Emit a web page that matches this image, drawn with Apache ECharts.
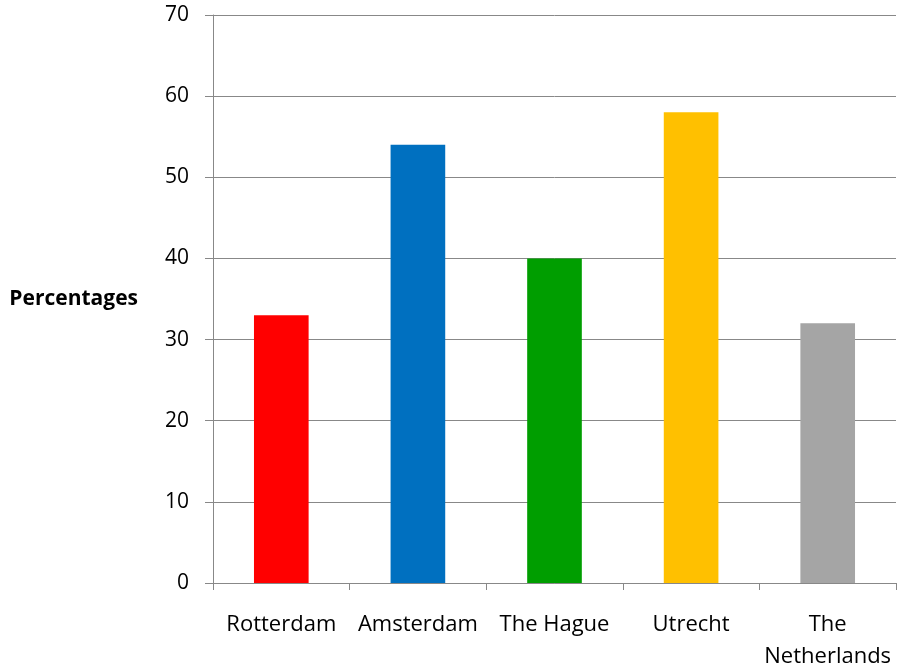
<!DOCTYPE html>
<html>
<head>
<meta charset="utf-8">
<script src="https://cdn.jsdelivr.net/npm/echarts@6/dist/echarts.min.js"></script>
<style>
  html, body { margin: 0; padding: 0; background: #fff; }
  #chart { width: 897px; height: 671px; }
</style>
</head>
<body>
<div id="chart"></div>
<script>
// categories and values
const cities = ['Rotterdam', 'Amsterdam', 'The Hague', 'Utrecht', 'The\nNetherlands'];
const percentages = [33, 54, 40, 58, 32];
const barColors = ['#FF0000', '#0070C0', '#009E00', '#FFC000', '#A5A5A5'];

const myChart = echarts.init(document.getElementById('chart'));
const font = 'Open Sans';

myChart.setOption({
    animation: false,
    grid: {left: 213, right: 1, top: 15, bottom: 88, outerBoundsMode: 'none'},
    xAxis: {
        type: 'category',
        data: cities,
        axisLine: {lineStyle: {color: '#888', width: 1}},
        axisTick: {show: true, length: 7, alignWithLabel: false, lineStyle: {color: '#888'}},
        axisLabel: {color: '#000', fontSize: 22, fontFamily: font, margin: 26, lineHeight: 32, interval: 0}
    },
    yAxis: {
        type: 'value',
        min: 0,
        max: 70,
        interval: 10,
        name: 'Percentages',
        nameLocation: 'middle',
        nameRotate: 0,
        nameGap: 75,
        nameTextStyle: {color: '#000', fontSize: 21, fontWeight: 'bold', fontFamily: font, align: 'right'},
        axisLine: {show: true, lineStyle: {color: '#888', width: 1}},
        axisTick: {show: true, length: 8, lineStyle: {color: '#888'}},
        axisLabel: {color: '#000', fontSize: 21, fontFamily: font, margin: 24},
        splitLine: {lineStyle: {color: '#888', width: 1}}
    },
    series: [{
        type: 'bar',
        barWidth: '40%',
        data: percentages.map((v, i) => ({value: v, itemStyle: {color: barColors[i]}}))
    }]
});
</script>
</body>
</html>
